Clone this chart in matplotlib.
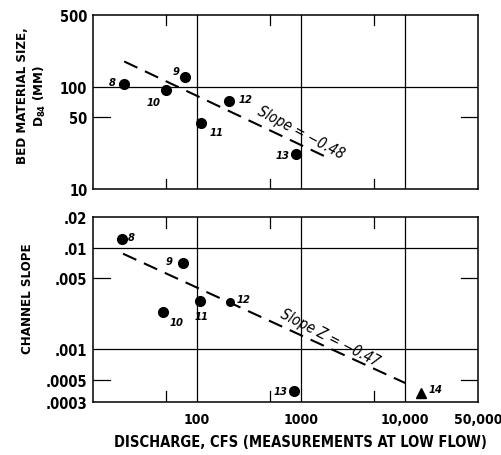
import numpy as np
import matplotlib.pyplot as plt
from matplotlib.ticker import FixedLocator, NullLocator

plt.rcParams['font.family'] = ['DejaVu Sans']
plt.rcParams['font.stretch'] = 'condensed'
plt.rcParams['font.weight'] = 'bold'

# data
site = ['8', '9', '10', '11', '12', '13']
q_top = [20, 77, 50, 110, 203, 900]
d84 = [107, 125, 93, 44, 73, 22]

q_bot = [19, 73, 47, 107, 207, 860]
slope = [0.012, 0.0071, 0.0023, 0.0030, 0.0029, 0.00039]
q_tri, slope_tri = 14250, 0.00037

fit_top = (741.0, -0.48, 20, 1800)      # coef, exponent, x from, x to
fit_bot = (0.0351, -0.47, 19.5, 10000)

top_offsets = [(-11, 1), (-9, 4), (-14, -9), (6, -6), (7, 1), (-15, -1)]
bot_offsets = [(4, 2), (-12, 1), (5, -7), (-4, -11), (5, 2), (-15, 0)]


def setup(ax, ymin, ymax, grid_y, short_y, ylabels):
    ax.set_xscale('log')
    ax.set_yscale('log')
    ax.set_xlim(10, 50000)
    ax.set_ylim(ymin, ymax)
    for v in [100, 1000, 10000]:
        ax.axvline(v, color='black', lw=0.9)
    for v in grid_y:
        ax.axhline(v, color='black', lw=0.9)
    # short inward ticks
    for v in [50, 500, 5000]:
        ax.plot([v, v], [0, 0.06], transform=ax.get_xaxis_transform(), color='black', lw=0.9)
        ax.plot([v, v], [0.94, 1], transform=ax.get_xaxis_transform(), color='black', lw=0.9)
    for v in short_y:
        ax.plot([0, 0.045], [v, v], transform=ax.get_yaxis_transform(), color='black', lw=0.9)
        ax.plot([0.955, 1], [v, v], transform=ax.get_yaxis_transform(), color='black', lw=0.9)
    ax.yaxis.set_major_locator(FixedLocator([t[0] for t in ylabels]))
    ax.set_yticklabels([t[1] for t in ylabels])
    ax.yaxis.set_minor_locator(NullLocator())
    ax.xaxis.set_minor_locator(NullLocator())
    ax.tick_params(length=0, labelsize=10.5, pad=4)
    for s in ax.spines.values():
        s.set_linewidth(1.1)


fig = plt.figure(figsize=(5.02, 4.56), dpi=100)
ax1 = fig.add_axes([0.185, 0.583, 0.767, 0.382])
ax2 = fig.add_axes([0.185, 0.116, 0.767, 0.406])

setup(ax1, 10, 500, [100], [50], [(500, '500'), (100, '100'), (50, '50'), (10, '10')])
ax1.set_xticks([])
setup(ax2, 0.0003, 0.02, [0.01, 0.001], [0.005, 0.0005],
      [(0.02, '.02'), (0.01, '.01'), (0.005, '.005'), (0.001, '.001'),
       (0.0005, '.0005'), (0.0003, '.0003')])
ax2.set_xticks([100, 1000, 10000, 50000])
ax2.set_xticklabels(['100', '1000', '10,000', '50,000'])
ax2.tick_params(axis='x', pad=7, labelsize=10)

# top panel
ax1.plot(q_top, d84, 'o', color='black', ms=7)
for x, y, s, off in zip(q_top, d84, site, top_offsets):
    ax1.annotate(s, (x, y), xytext=off, textcoords='offset points',
                 fontsize=8, style='italic', ha='left', va='center')
c, e, x0, x1 = fit_top
xf = np.array([x0, x1])
ax1.plot(xf, c * xf ** e, color='black', lw=1.5, dashes=(7, 4))
ax1.text(1000, 36, 'Slope = \u22120.48', rotation=-28, fontsize=10.5,
         style='italic', weight='normal', ha='center', va='center')

# bottom panel
ms = [7, 7, 7, 7, 5.5, 7]
for x, y, m in zip(q_bot, slope, ms):
    ax2.plot(x, y, 'o', color='black', ms=m)
ax2.plot(q_tri, slope_tri, '^', color='black', ms=7)
for x, y, s, off in zip(q_bot, slope, site, bot_offsets):
    ax2.annotate(s, (x, y), xytext=off, textcoords='offset points',
                 fontsize=8, style='italic', ha='left', va='center')
ax2.annotate('14', (q_tri, slope_tri), xytext=(5, 3), textcoords='offset points',
             fontsize=8, style='italic', ha='left', va='center')
c, e, x0, x1 = fit_bot
xf = np.array([x0, x1])
ax2.plot(xf, c * xf ** e, color='black', lw=1.5, dashes=(7, 4))
ax2.text(1900, 0.0013, 'Slope Z = \u22120.47', rotation=-27, fontsize=10.5,
         style='italic', weight='normal', ha='center', va='center')

fig.text(0.064, 0.79, 'BED MATERIAL SIZE,\nD$_{\\mathbf{84}}$ (MM)', rotation=90,
         ha='center', va='center', fontsize=9.5, linespacing=1.3)
fig.text(0.055, 0.345, 'CHANNEL SLOPE', rotation=90, ha='center', va='center',
         fontsize=9.5)
ax2.set_xlabel('DISCHARGE, CFS (MEASUREMENTS AT LOW FLOW)', fontsize=10.5,
               weight='bold')
ax2.xaxis.set_label_coords(0.54, -0.17)

fig.savefig('out.png', dpi=100)
